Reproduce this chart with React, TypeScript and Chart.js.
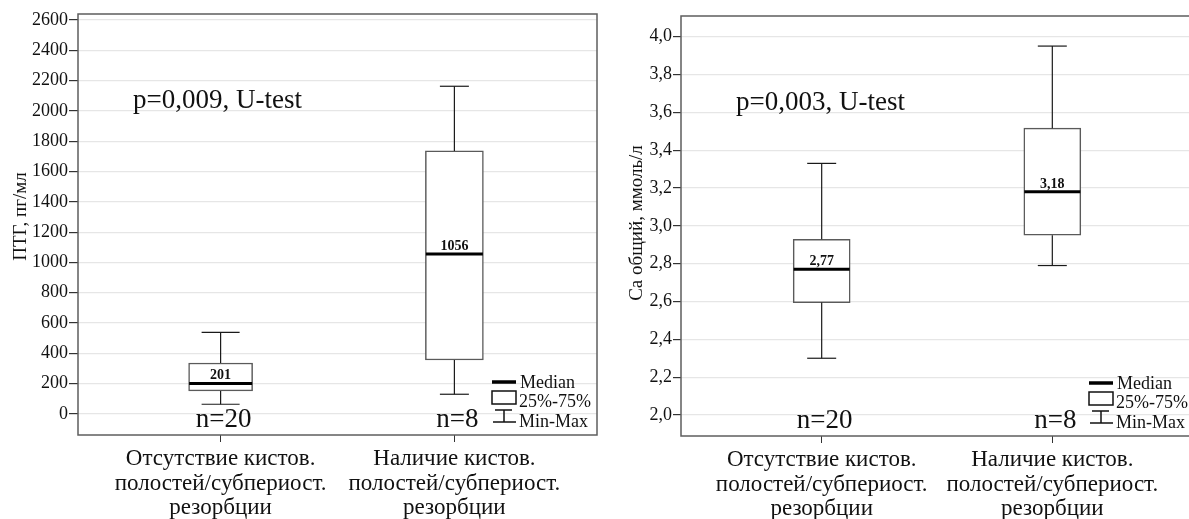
import React, { useEffect, useRef } from 'react';
import { Chart, registerables } from 'chart.js';

Chart.register(...registerables);

const FONT = "'Liberation Serif', 'Times New Roman', serif";

// ---------- shared ----------
const groupPositions = [1, 2];
const categoryLabels = [
  ['Отсутствие кистов.', 'полостей/субпериост.', 'резорбции'],
  ['Наличие кистов.', 'полостей/субпериост.', 'резорбции'],
];
const legendLabels = ['Median', '25%-75%', 'Min-Max'];

// ---------- left panel: PTH ----------
const pthTitle = 'ПТГ, пг/мл';
const pthPText = 'p=0,009, U-test';
const pthN = ['n=20', 'n=8'];
const pthMin = [64, 130];
const pthQ1 = [152, 356];
const pthMedian = [201, 1056];
const pthQ3 = [336, 1736];
const pthMax = [538, 2163];
const pthTicks = [0, 200, 400, 600, 800, 1000, 1200, 1400, 1600, 1800, 2000, 2200, 2400, 2600];

// ---------- right panel: Ca ----------
const caTitle = 'Са общий, ммоль/л';
const caPText = 'p=0,003, U-test';
const caN = ['n=20', 'n=8'];
const caMin = [2.3, 2.79];
const caQ1 = [2.594, 2.95];
const caMedian = [2.77, 3.18];
const caQ3 = [2.929, 3.516];
const caMax = [3.33, 3.95];
const caTicks = [2.0, 2.2, 2.4, 2.6, 2.8, 3.0, 3.2, 3.4, 3.6, 3.8, 4.0];

type Panel = {
  key: string;
  title: string;
  pText: string;
  n: string[];
  min: number[];
  q1: number[];
  median: number[];
  q3: number[];
  max: number[];
  ticks: number[];
  yMin: number;
  yMax: number;
  fmtTick: (v: number) => string;
  fmtMedian: (v: number) => string;
  boxWidths: number[];
  capWidths: number[];
  padding: { left: number; top: number; right: number; bottom: number };
  yWidth: number;
  xHeight: number;
  titleX: number;
  titleShift: number;
  tickLength: number;
  legendRight: number;
};

const line = (ctx: CanvasRenderingContext2D, x1: number, y1: number, x2: number, y2: number) => {
  ctx.beginPath();
  ctx.moveTo(x1, y1);
  ctx.lineTo(x2, y2);
  ctx.stroke();
};

const extrasPlugin = (p: Panel) => ({
  id: 'boxExtras_' + p.key,
  afterDatasetsDraw(chart: any) {
    const { ctx, chartArea: a, scales } = chart;
    const x = scales.x;
    const y = scales.y;
    ctx.save();
    // frame
    ctx.strokeStyle = '#5e5e5e';
    ctx.lineWidth = 1.5;
    ctx.strokeRect(a.left, a.top, a.right - a.left, a.bottom - a.top);

    groupPositions.forEach((pos, i) => {
      const cx = x.getPixelForValue(pos);
      const capHalf = p.capWidths[i] / 2;
      const boxHalf = p.boxWidths[i] / 2;
      const yMinP = y.getPixelForValue(p.min[i]);
      const yQ1 = y.getPixelForValue(p.q1[i]);
      const yMed = y.getPixelForValue(p.median[i]);
      const yQ3 = y.getPixelForValue(p.q3[i]);
      const yMaxP = y.getPixelForValue(p.max[i]);
      ctx.strokeStyle = '#1a1a1a';
      ctx.lineWidth = 1.2;
      line(ctx, cx, yQ3, cx, yMaxP);
      line(ctx, cx - capHalf, yMaxP, cx + capHalf, yMaxP);
      line(ctx, cx, yQ1, cx, yMinP);
      line(ctx, cx - capHalf, yMinP, cx + capHalf, yMinP);
      ctx.strokeStyle = '#000';
      ctx.lineWidth = 3;
      line(ctx, cx - boxHalf + 0.5, yMed, cx + boxHalf - 0.5, yMed);
      ctx.fillStyle = '#111';
      ctx.font = `bold 14px ${FONT}`;
      ctx.textAlign = 'center';
      ctx.textBaseline = 'alphabetic';
      ctx.fillText(p.fmtMedian(p.median[i]), cx, yMed - 4);
      ctx.font = `27px ${FONT}`;
      ctx.fillText(p.n[i], cx + 3, a.bottom - 8);
    });

    // p-value
    ctx.textAlign = 'left';
    ctx.font = `27px ${FONT}`;
    ctx.fillText(p.pText, a.left + 55, a.top + 94);

    // legend
    const lx = a.right - p.legendRight;
    const b = a.bottom;
    ctx.strokeStyle = '#000';
    ctx.lineWidth = 3.5;
    line(ctx, lx, b - 53, lx + 24, b - 53);
    ctx.lineWidth = 1.5;
    ctx.strokeStyle = '#111';
    ctx.strokeRect(lx, b - 44, 24, 13);
    ctx.lineWidth = 1.5;
    line(ctx, lx + 3, b - 25, lx + 20, b - 25);
    line(ctx, lx + 12, b - 25, lx + 12, b - 13);
    line(ctx, lx + 1, b - 13, lx + 24, b - 13);
    ctx.font = `18px ${FONT}`;
    ctx.textBaseline = 'middle';
    ctx.fillText(legendLabels[0], lx + 28, b - 52);
    ctx.fillText(legendLabels[1], lx + 27, b - 33);
    ctx.fillText(legendLabels[2], lx + 27, b - 13);

    // y-axis title
    ctx.translate(p.titleX, (a.top + a.bottom) / 2 + p.titleShift);
    ctx.rotate(-Math.PI / 2);
    ctx.textAlign = 'center';
    ctx.textBaseline = 'middle';
    ctx.font = `19px ${FONT}`;
    ctx.fillText(p.title, 0, 0);
    ctx.restore();
  },
});

const makeConfig = (p: Panel): any => ({
  type: 'bar',
  data: {
    datasets: groupPositions.map((pos, i) => ({
      data: [{ x: pos, y: [p.q1[i], p.q3[i]] }],
      backgroundColor: '#ffffff',
      borderColor: '#5a5a5a',
      borderWidth: 1.5,
      borderSkipped: false,
      barThickness: p.boxWidths[i],
      grouped: false,
    })),
  },
  options: {
    animation: false,
    responsive: false,
    devicePixelRatio: 1,
    layout: { padding: p.padding },
    plugins: { legend: { display: false }, tooltip: { enabled: false } },
    scales: {
      x: {
        type: 'linear',
        min: 0.39,
        max: 2.61,
        offset: false,
        afterBuildTicks: (s: any) => {
          s.ticks = groupPositions.map((v) => ({ value: v }));
        },
        afterFit: (s: any) => {
          s.height = p.xHeight;
        },
        ticks: {
          autoSkip: false,
          maxRotation: 0,
          padding: 5,
          color: '#111',
          font: { family: FONT, size: 23, lineHeight: 1.06 },
          callback: (_v: any, idx: number) => categoryLabels[idx],
        },
        grid: { display: true, drawOnChartArea: false, drawTicks: true, tickLength: 7, tickColor: '#333', offset: false },
        border: { display: false },
      },
      y: {
        type: 'linear',
        min: p.yMin,
        max: p.yMax,
        afterBuildTicks: (s: any) => {
          s.ticks = p.ticks.map((v) => ({ value: v }));
        },
        afterFit: (s: any) => {
          s.width = p.yWidth;
        },
        ticks: {
          padding: 1,
          color: '#111',
          font: { family: FONT, size: 18 },
          callback: (v: any) => p.fmtTick(Number(v)),
        },
        grid: { color: '#e6e6e6', lineWidth: 1.2, tickColor: '#333', tickLength: p.tickLength },
        border: { display: false },
        title: { display: false },
      },
    },
  },
  plugins: [extrasPlugin(p)],
});

const pthPanel: Panel = {
  key: 'pth',
  title: pthTitle,
  pText: pthPText,
  n: pthN,
  min: pthMin,
  q1: pthQ1,
  median: pthMedian,
  q3: pthQ3,
  max: pthMax,
  ticks: pthTicks,
  yMin: -139,
  yMax: 2640,
  fmtTick: (v) => String(v),
  fmtMedian: (v) => String(v),
  boxWidths: [64, 58],
  capWidths: [38, 29],
  padding: { left: 0, top: 14, right: 3, bottom: 0 },
  yWidth: 78,
  xHeight: 84,
  titleX: 21,
  titleShift: -8,
  tickLength: 9,
  legendRight: 105,
};

const caPanel: Panel = {
  key: 'ca',
  title: caTitle,
  pText: caPText,
  n: caN,
  min: caMin,
  q1: caQ1,
  median: caMedian,
  q3: caQ3,
  max: caMax,
  ticks: caTicks,
  yMin: 1.889,
  yMax: 4.109,
  fmtTick: (v) => v.toFixed(1).replace('.', ','),
  fmtMedian: (v) => v.toFixed(2).replace('.', ','),
  boxWidths: [57, 57],
  capWidths: [29, 29],
  padding: { left: 20, top: 16, right: 7, bottom: 0 },
  yWidth: 61,
  xHeight: 83,
  titleX: 37,
  titleShift: -3,
  tickLength: 8,
  legendRight: 104,
};

function PanelChart({ panel, left }: { panel: Panel; left: number }) {
  const ref = useRef<HTMLCanvasElement | null>(null);
  useEffect(() => {
    if (!ref.current) return;
    const chart = new Chart(ref.current, makeConfig(panel));
    return () => chart.destroy();
  }, [panel]);
  return (
    <canvas
      ref={ref}
      width={600}
      height={519}
      style={{ position: 'absolute', left, top: 0, width: 600, height: 519 }}
    />
  );
}

export default function App() {
  return (
    <div
      style={{
        position: 'fixed',
        left: 0,
        top: 0,
        width: 1189,
        height: 519,
        overflow: 'hidden',
        background: '#ffffff',
      }}
    >
      <PanelChart panel={pthPanel} left={0} />
      <PanelChart panel={caPanel} left={600} />
    </div>
  );
}
